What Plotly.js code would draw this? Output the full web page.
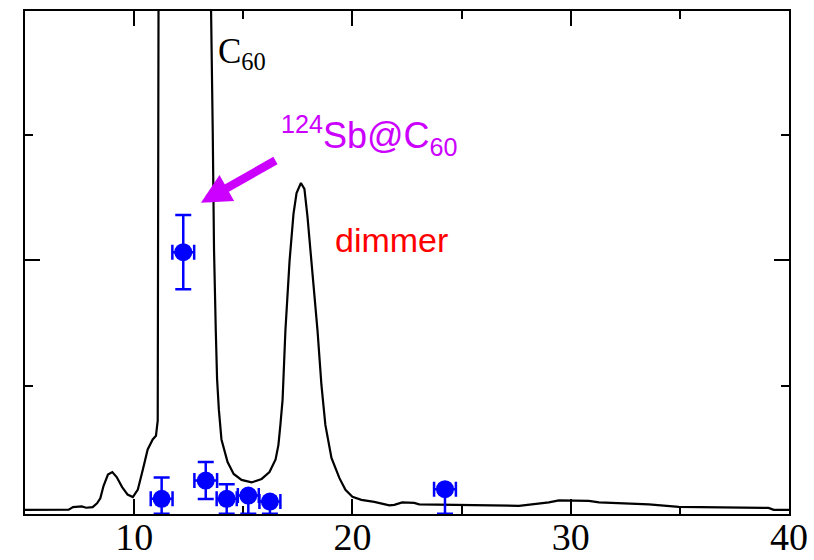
<!DOCTYPE html>
<html>
<head>
<meta charset="utf-8">
<script src="https://cdn.plot.ly/plotly-3.0.1.min.js"></script>
<style>html,body{margin:0;padding:0;background:#fff;}#chart{width:814px;height:560px;}</style>
</head>
<body>
<div id="chart"></div>
<script>
// Chromatogram (elution time vs detector signal)
const curveX = [5.0, 7.0, 7.2, 7.6, 7.8, 8.1, 8.3, 8.45, 8.6, 8.8, 9.0, 9.2, 9.45, 9.7, 9.94, 10.17, 10.4, 10.62, 10.85, 11.0, 11.08, 11.12, 12.3, 13.5, 13.6, 13.66, 13.74, 13.8, 13.88, 14.0, 14.28, 14.56, 14.92, 15.38, 15.84, 16.2, 16.48, 16.61, 16.7, 16.8, 16.93, 17.12, 17.3, 17.44, 17.64, 17.8, 17.94, 18.12, 18.4, 18.58, 18.76, 19.04, 19.4, 19.68, 20.0, 20.41, 21.0, 21.69, 21.92, 22.28, 22.83, 23.06, 25.21, 27.63, 29.0, 29.46, 30.83, 31.3, 33.58, 34.95, 39.06, 39.3, 40.0];
const curveY = [0.008, 0.01, 0.03, 0.035, 0.025, 0.03, 0.06, 0.1, 0.2, 0.29, 0.31, 0.27, 0.19, 0.13, 0.11, 0.17, 0.33, 0.49, 0.57, 0.6, 0.72, 4.3, 9.0, 4.3, 3.03, 2.08, 1.44, 1.05, 0.81, 0.57, 0.39, 0.295, 0.247, 0.227, 0.255, 0.31, 0.41, 0.527, 0.686, 0.886, 1.44, 1.995, 2.37, 2.537, 2.617, 2.57, 2.35, 1.995, 1.44, 1.005, 0.686, 0.423, 0.263, 0.168, 0.112, 0.088, 0.072, 0.044, 0.048, 0.068, 0.064, 0.052, 0.048, 0.04, 0.068, 0.084, 0.08, 0.068, 0.052, 0.032, 0.024, 0.008, 0.008];

// Radioactivity measurements (124Sb) per fraction
const pointX = [11.26, 12.25, 13.28, 14.24, 15.23, 16.22, 24.24];
const pointY = [0.096, 2.065, 0.242, 0.096, 0.122, 0.074, 0.173];
const errYPlus = [0.17, 0.297, 0.148, 0.117, 0.0, 0.0, 0.0];
const errYMinus = [0.12, 0.296, 0.148, 0.12, 0.146, 0.098, 0.197];
const errX = [0.5, 0.5, 0.52, 0.46, 0.48, 0.48, 0.5];

const xTickVals = [10, 20, 30, 40];
const xTickText = ['10', '20', '30', '40'];

const traces = [
  {
    x: curveX, y: curveY, type: 'scatter', mode: 'lines',
    line: {color: '#000000', width: 2.2}, hoverinfo: 'skip', showlegend: false
  },
  {
    x: pointX, y: pointY, type: 'scatter', mode: 'markers', cliponaxis: false,
    marker: {color: '#0000ff', size: 18, symbol: 'circle'},
    error_y: {type: 'data', symmetric: false, array: errYPlus, arrayminus: errYMinus, color: '#0000ff', thickness: 2.5, width: 8},
    error_x: {type: 'data', array: errX, color: '#0000ff', thickness: 2.5, width: 7.5},
    showlegend: false
  }
];

const layout = {
  width: 814, height: 560,
  margin: {l: 25, r: 25, t: 11, b: 46, pad: 0},
  paper_bgcolor: '#ffffff', plot_bgcolor: '#ffffff',
  showlegend: false,
  xaxis: {
    range: [5, 40], showgrid: false, zeroline: false,
    showline: true, linecolor: '#000000', linewidth: 2, mirror: 'ticks',
    ticks: 'inside', ticklen: 15, tickwidth: 2, tickcolor: '#000000',
    tickmode: 'array', tickvals: xTickVals, ticktext: xTickText,
    ticklabelstandoff: -12,
    tickfont: {family: 'Liberation Serif, Times New Roman, serif', size: 38, color: '#000000'},
    minor: {dtick: 5, tick0: 5, ticklen: 8, tickwidth: 2, tickcolor: '#000000', ticks: 'inside', showgrid: false},
    layer: 'below traces'
  },
  yaxis: {
    range: [-0.025, 3.99], showgrid: false, zeroline: false,
    showline: true, linecolor: '#000000', linewidth: 2, mirror: 'ticks',
    ticks: 'inside', ticklen: 15, tickwidth: 2, tickcolor: '#000000',
    tickmode: 'array', tickvals: [2], showticklabels: false,
    minor: {tickmode: 'array', tickvals: [1, 3], ticklen: 8, tickwidth: 2, tickcolor: '#000000', ticks: 'inside', showgrid: false},
    layer: 'below traces'
  },
  annotations: [
    {
      x: 13.76, y: 3.65, xref: 'x', yref: 'y', xanchor: 'left', yanchor: 'middle',
      text: 'C<sub>60</sub>', showarrow: false,
      font: {family: 'Liberation Serif, Times New Roman, serif', size: 35, color: '#000000'}
    },
    {
      x: 16.64, y: 2.995, xref: 'x', yref: 'y', xanchor: 'left', yanchor: 'middle',
      text: '<sup>124</sup>Sb@C<sub>60</sub>', showarrow: false,
      font: {family: 'Liberation Sans, Arial, sans-serif', size: 36, color: '#cc00ff'}
    },
    {
      x: 21.8, y: 2.163, xref: 'x', yref: 'y', xanchor: 'center', yanchor: 'middle',
      text: 'dimmer', showarrow: false,
      font: {family: 'Liberation Sans, Arial, sans-serif', size: 34, color: '#ff0000'}
    },
    {
      x: 13.06, y: 2.46, xref: 'x', yref: 'y', text: '',
      showarrow: true, ax: 76, ay: -43, arrowcolor: '#cc00ff',
      arrowwidth: 8.5, arrowhead: 2, arrowsize: 0.7, standoff: 0
    }
  ]
};

Plotly.newPlot('chart', traces, layout, {displayModeBar: false, staticPlot: true});
</script>
</body>
</html>
